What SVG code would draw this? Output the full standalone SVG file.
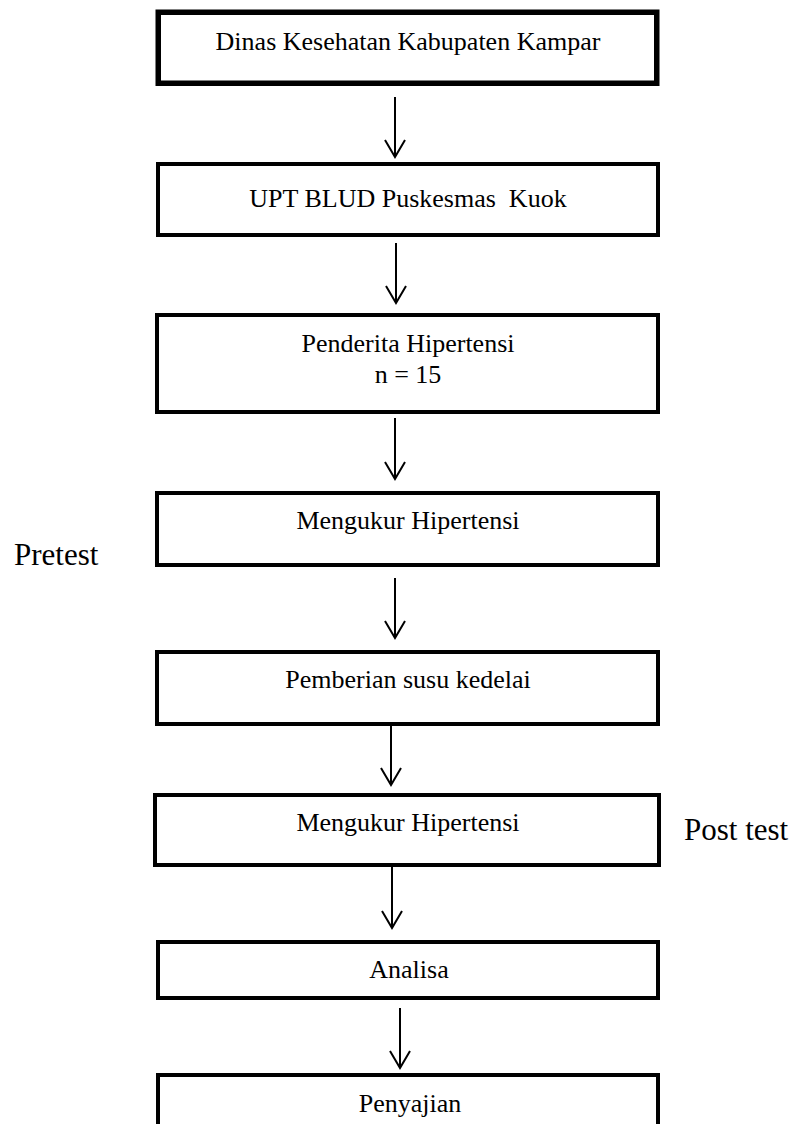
<svg xmlns="http://www.w3.org/2000/svg" width="797" height="1124" viewBox="0 0 797 1124">
<defs>
<style>
.box{fill:#fff;stroke:#000;stroke-width:4}
.thick{stroke-width:5.5}
.t{font-family:"Liberation Serif","Times New Roman","DejaVu Serif",serif;font-size:26px;fill:#000;text-anchor:middle;white-space:pre}
.lbl{font-family:"Liberation Serif","Times New Roman","DejaVu Serif",serif;font-size:31px;fill:#000}
.conn line{stroke:#000;stroke-width:2;fill:none}
</style>
<marker id="ah" viewBox="0 0 20 24" refX="18" refY="12" markerWidth="20" markerHeight="24" markerUnits="userSpaceOnUse" orient="auto">
<polyline points="1,2 18,12 1,22" fill="none" stroke="#000" stroke-width="2"/>
</marker>
</defs>
<rect width="797" height="1124" fill="#fff"/>
<g id="n1"><rect class="box thick" x="158.25" y="12.25" width="498.5" height="71"/><text class="t" x="408" y="50">Dinas Kesehatan Kabupaten Kampar</text></g>
<g id="n2"><rect class="box" x="158" y="164" width="500" height="71"/><text class="t" x="408" y="207">UPT BLUD Puskesmas  Kuok</text></g>
<g id="n3"><rect class="box" x="157" y="315" width="501" height="97"/><text class="t" x="408" y="352">Penderita Hipertensi</text><text class="t" x="408" y="383">n = 15</text></g>
<g id="n4"><rect class="box" x="157" y="493" width="501" height="72"/><text class="t" x="408" y="529">Mengukur Hipertensi</text></g>
<g id="n5"><rect class="box" x="157" y="652" width="501" height="72"/><text class="t" x="408" y="688">Pemberian susu kedelai</text></g>
<g id="n6"><rect class="box" x="155" y="795" width="504" height="70"/><text class="t" x="408" y="831">Mengukur Hipertensi</text></g>
<g id="n7"><rect class="box" x="158" y="942" width="500" height="56"/><text class="t" x="409" y="978">Analisa</text></g>
<g id="n8"><rect class="box" x="158" y="1075" width="500" height="70"/><text class="t" x="410" y="1112">Penyajian</text></g>
<g id="pretest"><text class="lbl" x="14" y="565">Pretest</text></g>
<g id="posttest"><text class="lbl" x="684" y="840">Post test</text></g>
<g class="conn" id="connectors">
<line x1="395" y1="97" x2="395" y2="157" marker-end="url(#ah)"/>
<line x1="396" y1="243" x2="396" y2="303" marker-end="url(#ah)"/>
<line x1="395" y1="418" x2="395" y2="479" marker-end="url(#ah)"/>
<line x1="395" y1="578" x2="395" y2="638" marker-end="url(#ah)"/>
<line x1="391" y1="726" x2="391" y2="785" marker-end="url(#ah)"/>
<line x1="392" y1="867" x2="392" y2="928" marker-end="url(#ah)"/>
<line x1="400" y1="1008" x2="400" y2="1068" marker-end="url(#ah)"/>
</g>
</svg>
